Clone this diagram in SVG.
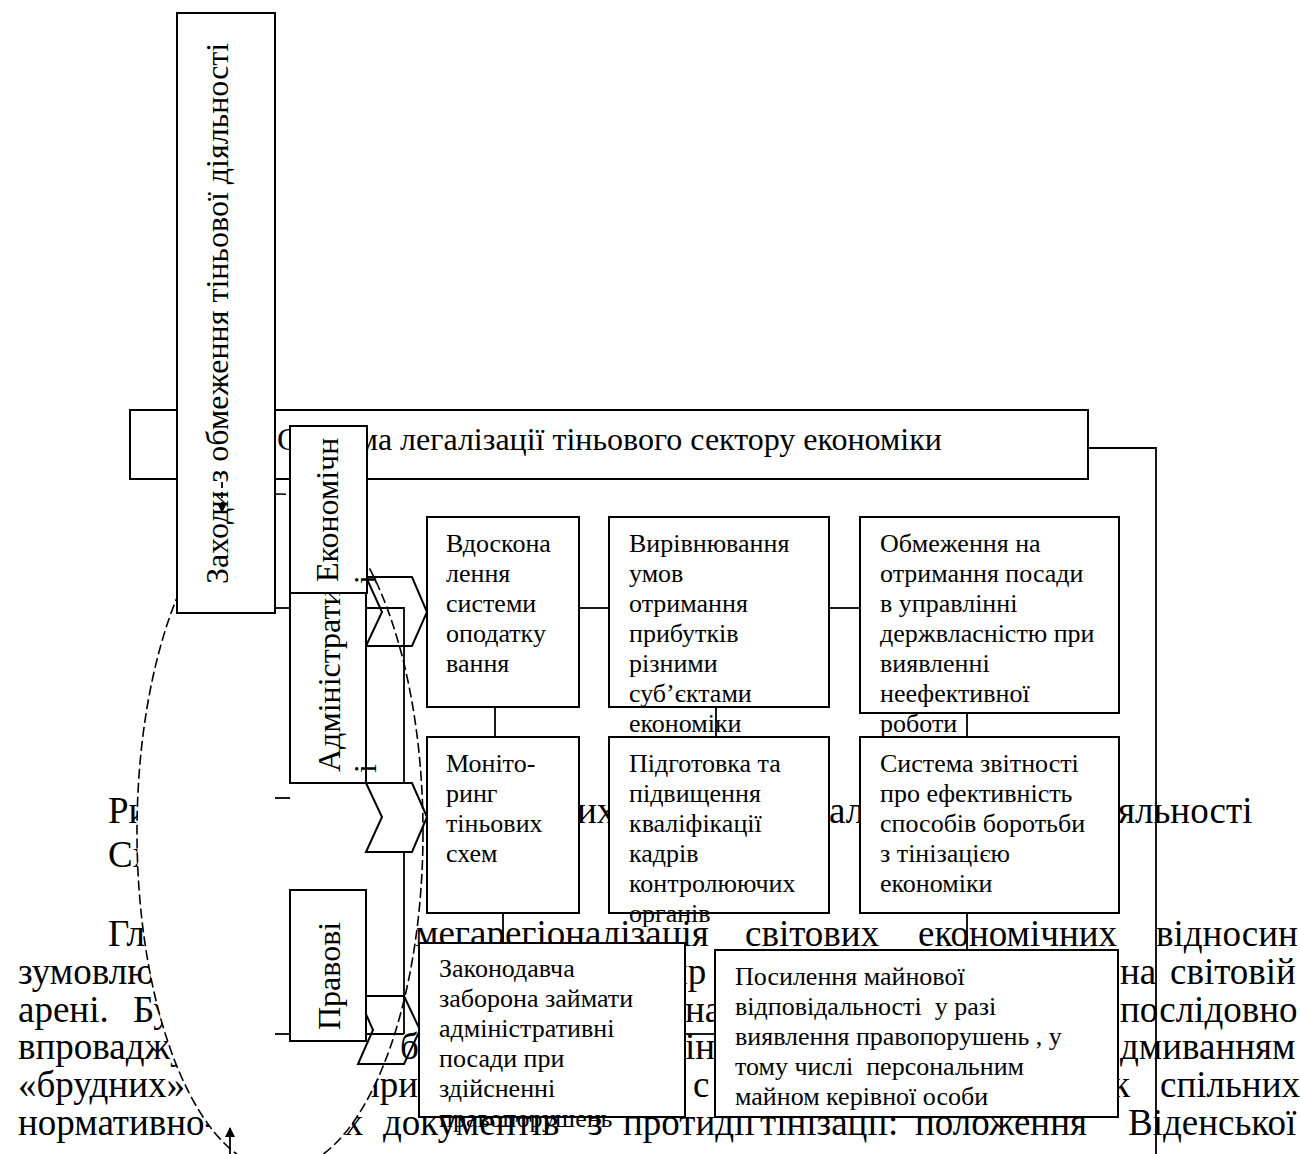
<svg xmlns="http://www.w3.org/2000/svg" width="1300" height="1154" viewBox="0 0 1300 1154">
  <style>
    .t{font-family:"Liberation Serif","Times New Roman",serif;fill:#000}
    .body{font-size:37px}
    .big{font-size:32px}
    .sm{font-size:26px}
    .box{fill:#fff;stroke:#000;stroke-width:2}
    .chev{fill:none;stroke:#000;stroke-width:2;stroke-linejoin:miter}
    .ln{fill:none;stroke:#000;stroke-width:1.8}
    .oval{fill:#fff;stroke:#000;stroke-width:1.6;stroke-dasharray:10 4}
  </style>
  <defs>
    <marker id="ah" markerWidth="10" markerHeight="10" refX="9" refY="5" orient="auto" markerUnits="userSpaceOnUse">
      <path d="M0,0 L10,5 L0,10 Z" fill="#000"/>
    </marker>
  </defs>

  <!-- running page text behind the figure -->
  <g id="page-text" class="t body">
    <text x="108" y="823">Ри</text>
    <text x="577" y="823">их</text>
    <text x="829" y="823">ал</text>
    <text x="1118" y="823">яльності</text>
    <text x="108" y="867">Сх</text>
    <text x="108" y="946">Гл</text>
    <text x="415" y="946">мегарегіоналізація</text>
    <text x="745" y="946">світових</text>
    <text x="918" y="946">економічних</text>
    <text x="1156" y="946">відносин</text>
    <text x="18" y="984">зумовлю</text>
    <text x="668" y="984">пр</text>
    <text x="1120" y="984">на</text>
    <text x="1170" y="984">світовій</text>
    <text x="18" y="1022">арені.</text>
    <text x="133" y="1022">Бу</text>
    <text x="685" y="1022">на</text>
    <text x="1120" y="1022">послідовно</text>
    <text x="18" y="1059">впроваджу</text>
    <text x="400" y="1059">б</text>
    <text x="685" y="1059">ін</text>
    <text x="1120" y="1059">дмиванням</text>
    <text x="18" y="1097">«брудних»</text>
    <text x="360" y="1097">при</text>
    <text x="693" y="1097">с</text>
    <text x="1112" y="1097">к</text>
    <text x="1160" y="1097">спільних</text>
    <text x="18" y="1135">нормативно-правових</text>
    <text x="383" y="1135">документів</text>
    <text x="588" y="1135">з</text>
    <text x="623" y="1135">протидії</text>
    <text x="760" y="1135">тінізації:</text>
    <text x="915" y="1135">положення</text>
    <text x="1128" y="1135">Віденської</text>
  </g>

  <!-- dashed oval grouping the three kinds of measures -->
  <ellipse id="scope-oval" class="oval" cx="280" cy="832" rx="143" ry="338"/>

  <!-- title -->
  <g id="title">
    <rect class="box" x="130" y="410" width="958" height="69"/>
    <text class="t big" x="277" y="450">Система легалізації тіньового сектору економіки</text>
  </g>

  <!-- vertical heading -->
  <g id="measures">
    <rect class="box" x="177" y="13" width="98" height="600"/>
    <text class="t big" transform="translate(228,584) rotate(-90)">Заходи з обмеження тіньової діяльності</text>
  </g>

  <!-- chevrons leading into the rows -->
  <g id="chevron-1"><polygon class="chev" points="366,577 412,577 427,612 412,646 366,646 382,612"/></g>
  <g id="chevron-2"><polygon class="chev" points="366,783 412,783 427,817 412,852 366,852 382,817"/></g>
  <g id="chevron-3"><polygon class="chev" points="358,996 404,996 420,1030 404,1064 358,1064 373,1030"/></g>

  <!-- categories -->
  <g id="admin">
    <rect class="box" x="290" y="593" width="76" height="190"/>
    <text class="t big" transform="translate(340,772) rotate(-90)">Адміністрати</text>
    <text class="t big" transform="translate(376,773) rotate(-90)">і</text>
  </g>
  <g id="econ">
    <rect class="box" x="290" y="426" width="77" height="167"/>
    <text class="t big" transform="translate(338,582) rotate(-90)">Економічн</text>
    <text class="t big" transform="translate(376,584) rotate(-90)">і</text>
  </g>
  <g id="legal">
    <rect class="box" x="290" y="890" width="76" height="151"/>
    <text class="t big" transform="translate(340,1030) rotate(-90)">Правові</text>
  </g>

  <!-- row 1 -->
  <g id="tax">
    <rect class="box" x="427" y="517" width="152" height="190"/>
    <text class="t sm" x="446" y="552">Вдоскона<tspan x="446" dy="30">лення</tspan><tspan x="446" dy="30">системи</tspan><tspan x="446" dy="30">оподатку</tspan><tspan x="446" dy="30">вання</tspan></text>
  </g>
  <g id="profit">
    <rect class="box" x="609" y="517" width="220" height="190"/>
    <text class="t sm" x="629" y="552">Вирівнювання<tspan x="629" dy="30">умов</tspan><tspan x="629" dy="30">отримання</tspan><tspan x="629" dy="30">прибутків</tspan><tspan x="629" dy="30">різними</tspan><tspan x="629" dy="30">суб’єктами</tspan><tspan x="629" dy="30">економіки</tspan></text>
  </g>
  <g id="posts">
    <rect class="box" x="860" y="517" width="259" height="196"/>
    <text class="t sm" x="880" y="552">Обмеження на<tspan x="880" dy="30">отримання посади</tspan><tspan x="880" dy="30">в управлінні</tspan><tspan x="880" dy="30">держвласністю при</tspan><tspan x="880" dy="30">виявленні</tspan><tspan x="880" dy="30">неефективної</tspan><tspan x="880" dy="30">роботи</tspan></text>
  </g>

  <!-- row 2 -->
  <g id="monitor">
    <rect class="box" x="427" y="737" width="152" height="176"/>
    <text class="t sm" x="446" y="772">Моніто-<tspan x="446" dy="30">ринг</tspan><tspan x="446" dy="30">тіньових</tspan><tspan x="446" dy="30">схем</tspan></text>
  </g>
  <g id="training">
    <rect class="box" x="609" y="737" width="220" height="176"/>
    <text class="t sm" x="629" y="772">Підготовка та<tspan x="629" dy="30">підвищення</tspan><tspan x="629" dy="30">кваліфікації</tspan><tspan x="629" dy="30">кадрів</tspan><tspan x="629" dy="30">контролюючих</tspan><tspan x="629" dy="30">органів</tspan></text>
  </g>
  <g id="reporting">
    <rect class="box" x="860" y="737" width="259" height="176"/>
    <text class="t sm" x="880" y="772">Система звітності<tspan x="880" dy="30">про ефективність</tspan><tspan x="880" dy="30">способів боротьби</tspan><tspan x="880" dy="30">з тінізацією</tspan><tspan x="880" dy="30">економіки</tspan></text>
  </g>

  <!-- row 3 -->
  <g id="ban">
    <rect class="box" x="419" y="943" width="266" height="174"/>
    <text class="t sm" x="439" y="977">Законодавча<tspan x="439" dy="30">заборона займати</tspan><tspan x="439" dy="30">адміністративні</tspan><tspan x="439" dy="30">посади при</tspan><tspan x="439" dy="30">здійсненні</tspan><tspan x="439" dy="30">правопорушень</tspan></text>
  </g>
  <g id="liability">
    <rect class="box" x="715" y="950" width="403" height="167"/>
    <text class="t sm" x="735" y="985" xml:space="preserve">Посилення майнової<tspan x="735" dy="30">відповідальності  у разі</tspan><tspan x="735" dy="30">виявлення правопорушень , у</tspan><tspan x="735" dy="30">тому числі  персональним</tspan><tspan x="735" dy="30">майном керівної особи</tspan></text>
  </g>

  <!-- connectors -->
  <g id="connectors" class="ln">
    <polyline points="1088,448 1156,448 1156,1154"/>
    <line x1="579" y1="608" x2="609" y2="608"/>
    <line x1="829" y1="608" x2="860" y2="608"/>
    <line x1="495" y1="707" x2="495" y2="737"/>
    <line x1="716" y1="707" x2="716" y2="737"/>
    <line x1="967" y1="713" x2="967" y2="737"/>
    <line x1="503" y1="913" x2="503" y2="943"/>
    <line x1="967" y1="913" x2="967" y2="950"/>
    <line x1="685" y1="1034" x2="715" y2="1034"/>
    <line x1="275" y1="608" x2="290" y2="608"/>
    <polyline points="366,608 404,608 404,783"/>
    <line x1="275" y1="798" x2="290" y2="798"/>
    <line x1="404" y1="852" x2="404" y2="1034"/>
    <line x1="367" y1="996" x2="404" y2="996"/>
    <line x1="275" y1="1034" x2="290" y2="1034"/>
    <line x1="367" y1="1034" x2="404" y2="1034"/>
    <line x1="222" y1="482" x2="222" y2="512" stroke-dasharray="6 4" marker-end="url(#ah)"/>
    <line x1="230" y1="1154" x2="230" y2="1128" marker-end="url(#ah)"/>
  </g>
</svg>
